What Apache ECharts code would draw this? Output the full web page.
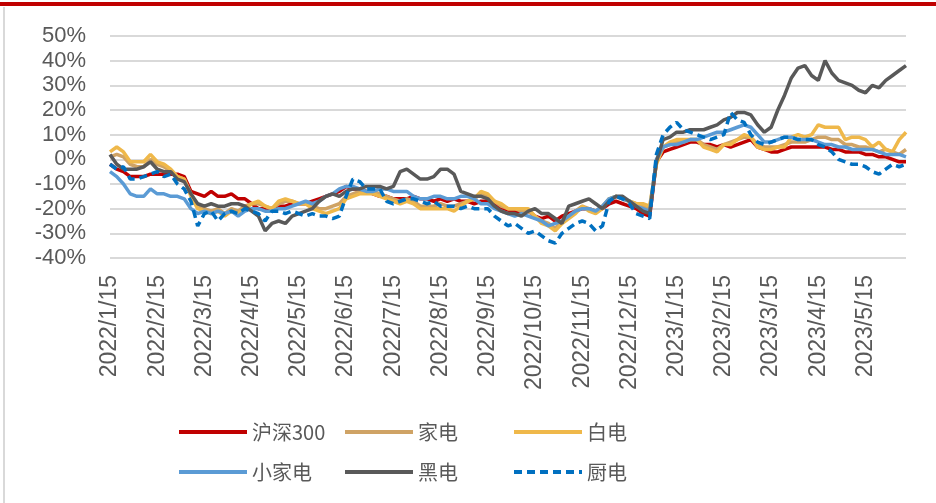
<!DOCTYPE html>
<html>
<head>
<meta charset="utf-8">
<script src="https://cdn.jsdelivr.net/npm/echarts@6/dist/echarts.min.js"></script>
<style>
  html, body { margin: 0; padding: 0; background: #fff; }
  #chart { width: 936px; height: 503px; }
</style>
</head>
<body>
<div id="chart"></div>
<script>
// month tick labels, one every 7 points
const monthLabels = ['2022/1/15', '2022/2/15', '2022/3/15', '2022/4/15', '2022/5/15', '2022/6/15',
  '2022/7/15', '2022/8/15', '2022/9/15', '2022/10/15', '2022/11/15', '2022/12/15',
  '2023/1/15', '2023/2/15', '2023/3/15', '2023/4/15', '2023/5/15'];

const seriesNames = ['沪深300', '家电', '白电', '小家电', '黑电', '厨电'];

// cumulative returns in %, 7 points per month
const hs300 = [
  -2, -4, -5, -7, -7, -7, -6,
  -6, -6, -6, -6, -7, -13, -14,
  -15, -13, -15, -15, -14, -16, -16,
  -18, -20, -20, -20, -19, -19, -18,
  -18, -18, -17, -16, -15, -14, -13,
  -11, -12, -12, -13, -14, -15, -15,
  -16, -16, -16, -15, -16, -16, -17,
  -16, -17, -16, -17, -17, -18, -17,
  -17, -18, -20, -21, -21, -21, -21,
  -23, -24, -23, -25, -23, -22, -21,
  -20, -20, -21, -20, -18, -17, -18,
  -19, -20, -22, -23, -1, 3, 4,
  5, 6, 7, 7, 6, 6, 5,
  6, 5, 6, 7, 8, 5, 4,
  3, 3, 4, 5, 5, 5, 5,
  5, 5, 4, 4, 3, 3, 3,
  2, 2, 1, 1, 0, -1, -1
];
const jiadian = [
  1, 2, 1, -2, -3, -3, 0,
  -2, -3, -5, -7, -8, -14, -19,
  -20, -21, -20, -22, -20, -21, -19,
  -18, -18, -19, -20, -18, -17, -17,
  -18, -18, -19, -20, -20, -19, -18,
  -15, -14, -13, -13, -13, -14, -15,
  -16, -17, -16, -17, -19, -19, -19,
  -18, -19, -19, -18, -17, -16, -14,
  -15, -17, -19, -20, -20, -21, -21,
  -23, -25, -26, -28, -25, -23, -21,
  -19, -20, -21, -19, -16, -15, -16,
  -17, -18, -19, -20, -1, 5, 6,
  7, 7, 8, 8, 6, 5, 4,
  6, 7, 8, 9, 9, 6, 5,
  5, 5, 6, 7, 7, 7, 8,
  9, 9, 8, 8, 6, 6, 5,
  5, 4, 3, 4, 3, 2, 4
];
const baidian = [
  3, 5, 3, -1, -1, -1, 2,
  -1, -2, -4, -7, -8, -15, -20,
  -21, -22, -21, -23, -21, -22, -20,
  -18, -17, -19, -20, -17, -16, -17,
  -18, -18, -20, -21, -22, -21, -20,
  -16, -15, -14, -14, -14, -15, -16,
  -17, -18, -17, -18, -20, -20, -20,
  -20, -20, -21, -19, -17, -16, -13,
  -14, -17, -18, -20, -20, -20, -20,
  -23, -26, -27, -29, -26, -24, -22,
  -19, -21, -22, -20, -16, -15, -16,
  -17, -18, -18, -19, -2, 5, 7,
  8, 8, 8, 8, 5, 4, 3,
  6, 6, 8, 10, 9, 5, 4,
  4, 5, 5, 9, 10, 9, 10,
  14, 13, 13, 13, 8, 9, 9,
  8, 5, 7, 4, 3, 8, 11
];
const xiaojiadian = [
  -5, -7, -10, -14, -15, -15, -12,
  -14, -14, -15, -15, -16, -20, -22,
  -21, -22, -21, -22, -21, -23, -21,
  -20, -20, -21, -21, -20, -20, -19,
  -18, -17, -18, -17, -15, -14, -12,
  -11, -11, -12, -13, -13, -12, -12,
  -13, -13, -13, -15, -16, -16, -15,
  -15, -16, -16, -15, -15, -16, -18,
  -18, -20, -21, -22, -23, -22, -23,
  -24, -25, -27, -26, -25, -23, -21,
  -20, -20, -21, -19, -16, -15, -16,
  -17, -19, -20, -21, 0, 5, 6,
  6, 7, 8, 8, 9, 10, 11,
  11, 12, 13, 14, 13, 10, 7,
  7, 8, 9, 9, 8, 8, 8,
  7, 6, 6, 5, 5, 4, 4,
  4, 4, 3, 2, 2, 2, 1
];
const heidian = [
  2, -2, -4, -4, -4, -3, -1,
  -4, -5, -5, -8, -9, -14, -18,
  -19, -18, -19, -19, -18, -18, -19,
  -21, -23, -29, -26, -25, -26, -23,
  -22, -21, -20, -17, -15, -14, -15,
  -13, -12, -12, -11, -11, -11, -12,
  -11, -5, -4, -6, -8, -8, -7,
  -4, -4, -6, -13, -14, -15, -15,
  -16, -19, -21, -22, -22, -23, -21,
  -20, -22, -22, -24, -26, -19, -18,
  -17, -16, -18, -20, -17, -15, -15,
  -17, -19, -21, -22, -1, 8, 9,
  11, 11, 12, 12, 12, 13, 14,
  16, 17, 19, 19, 18, 14, 11,
  13, 20, 26, 33, 37, 38, 34,
  32, 40, 35, 32, 31, 30, 28,
  27, 30, 29, 32, 34, 36, 38
];
const chudian = [
  -2, -4, -3, -8, -8, -7, -6,
  -5, -7, -6, -10, -12, -17, -27,
  -22, -21, -25, -22, -21, -22, -20,
  -21, -22, -25, -21, -21, -22, -21,
  -22, -23, -22, -23, -23, -24, -23,
  -15, -8, -9, -12, -12, -12, -17,
  -18, -17, -16, -16, -17, -18, -17,
  -19, -19, -19, -20, -19, -20, -20,
  -20, -23, -25, -27, -26, -28, -30,
  -29, -31, -33, -34, -30, -28, -26,
  -25, -26, -29, -27, -17, -15, -16,
  -18, -22, -23, -24, 2, 10, 13,
  15, 12, 11, 10, 9, 8, 9,
  10, 19, 16, 15, 10, 7, 6,
  7, 8, 9, 9, 8, 8, 8,
  6, 5, 3, 0, -1, -2, -2,
  -3, -5, -6, -4, -2, -3, -2
];

const allData = [hs300, jiadian, baidian, xiaojiadian, heidian, chudian];
const colors = ['#c00000', '#cfa365', '#efb84a', '#5b9bd5', '#595959', '#0070c0'];
const STEP = 7;

const chartDom = document.getElementById('chart');
const myChart = echarts.init(chartDom);

const series = seriesNames.map((name, k) => ({
  name: name,
  type: 'line',
  symbol: 'none',
  smooth: false,
  data: allData[k].map((v, i) => [i, v]),
  lineStyle: {
    color: colors[k],
    width: 3.5,
    type: name === '厨电' ? [8, 5] : 'solid'
  },
  itemStyle: { color: colors[k] }
}));

const legendBase = {
  orient: 'vertical',
  itemWidth: 68,
  itemHeight: 20,
  itemGap: 20,
  top: 417,
  itemStyle: { opacity: 0 },
  lineStyle: { width: 4 },
  textStyle: {
    fontSize: 20,
    color: '#595959',
    fontFamily: 'Noto Sans CJK SC',
    lineHeight: 20
  }
};

const option = {
  animation: false,
  backgroundColor: '#fff',
  color: colors,
  grid: { left: 110, right: 30, top: 36, bottom: 245 },
  xAxis: {
    type: 'value',
    min: 0,
    max: hs300.length - 1,
    interval: STEP,
    axisLine: { show: false, onZero: false },
    axisTick: { show: false },
    splitLine: { show: false },
    axisLabel: {
      rotate: 90,
      margin: 17,
      fontSize: 23,
      color: '#595959',
      fontFamily: 'Liberation Sans',
      formatter: v => (v % STEP === 0 && monthLabels[v / STEP]) ? monthLabels[v / STEP] : ''
    }
  },
  yAxis: {
    type: 'value',
    min: -40,
    max: 50,
    interval: 10,
    axisLine: { show: false },
    axisTick: { show: false },
    splitLine: { lineStyle: { color: '#d9d9d9', width: 2 } },
    axisLabel: {
      margin: 24,
      fontSize: 22,
      color: '#595959',
      fontFamily: 'Liberation Sans',
      formatter: v => v + '%'
    }
  },
  legend: [
    Object.assign({}, legendBase, { left: 172, data: ['沪深300', '小家电'] }),
    Object.assign({}, legendBase, { left: 338, data: ['家电', '黑电'] }),
    Object.assign({}, legendBase, { left: 507, data: ['白电', '厨电'] })
  ],
  graphic: [
    { type: 'rect', left: 0, top: 2, shape: { width: 936, height: 4 }, style: { fill: '#c00000' }, silent: true },
    { type: 'rect', left: 3, top: 7, shape: { width: 2, height: 496 }, style: { fill: '#d9d9d9' }, silent: true }
  ],
  series: series
};

myChart.setOption(option);
</script>
</body>
</html>
